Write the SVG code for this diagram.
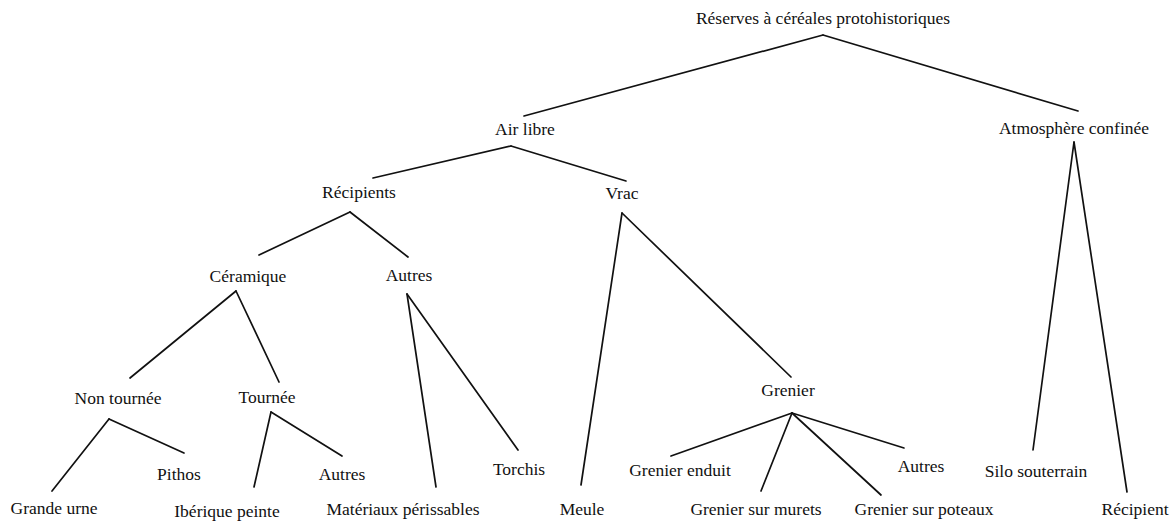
<svg xmlns="http://www.w3.org/2000/svg" width="1173" height="522" viewBox="0 0 1173 522">
<style>
text{font-family:"Liberation Serif","Times New Roman",serif;font-size:17.5px;fill:#111;text-anchor:middle}
.c line{stroke:#111;stroke-width:1.7;stroke-linecap:round}
</style>
<rect width="1173" height="522" fill="#fff"/>
<g class="c" id="connectors">
<line x1="823" y1="35" x2="524" y2="116"/>
<line x1="823" y1="35" x2="1078" y2="111"/>
<line x1="511" y1="146" x2="373" y2="178"/>
<line x1="511" y1="146" x2="626" y2="181"/>
<line x1="1074" y1="142" x2="1033" y2="450"/>
<line x1="1074" y1="142" x2="1127" y2="492"/>
<line x1="350" y1="212" x2="259" y2="255"/>
<line x1="350" y1="212" x2="408" y2="257"/>
<line x1="622" y1="213" x2="581" y2="485"/>
<line x1="622" y1="213" x2="791" y2="377"/>
<line x1="236" y1="291" x2="130" y2="378"/>
<line x1="236" y1="291" x2="279" y2="382"/>
<line x1="407" y1="294" x2="436" y2="487"/>
<line x1="407" y1="294" x2="518" y2="450"/>
<line x1="792" y1="413" x2="671" y2="456"/>
<line x1="792" y1="413" x2="761" y2="491"/>
<line x1="792" y1="413" x2="881" y2="495"/>
<line x1="792" y1="413" x2="904" y2="448"/>
<line x1="109" y1="419" x2="52" y2="491"/>
<line x1="109" y1="419" x2="184" y2="453"/>
<line x1="271" y1="412" x2="254" y2="487"/>
<line x1="271" y1="412" x2="342" y2="456"/>
</g>
<g id="n-root"><text x="823" y="24">Réserves à céréales protohistoriques</text></g>
<g id="n-airlibre"><text x="525" y="135">Air libre</text></g>
<g id="n-atmos"><text x="1074" y="134">Atmosphère confinée</text></g>
<g id="n-recipients"><text x="359" y="198">Récipients</text></g>
<g id="n-vrac"><text x="622" y="199">Vrac</text></g>
<g id="n-ceramique"><text x="248" y="282">Céramique</text></g>
<g id="n-autres1"><text x="409" y="281">Autres</text></g>
<g id="n-nontournee"><text x="118" y="404">Non tournée</text></g>
<g id="n-tournee"><text x="267" y="403">Tournée</text></g>
<g id="n-grenier"><text x="788" y="396">Grenier</text></g>
<g id="n-pithos"><text x="179" y="480">Pithos</text></g>
<g id="n-autres2"><text x="342" y="480">Autres</text></g>
<g id="n-torchis"><text x="519" y="475">Torchis</text></g>
<g id="n-grenierenduit"><text x="680" y="476">Grenier enduit</text></g>
<g id="n-autres3"><text x="921" y="472">Autres</text></g>
<g id="n-silo"><text x="1036" y="477">Silo souterrain</text></g>
<g id="n-grandeurne"><text x="54" y="514">Grande urne</text></g>
<g id="n-iberique"><text x="227" y="517">Ibérique peinte</text></g>
<g id="n-materiaux"><text x="403" y="515">Matériaux périssables</text></g>
<g id="n-meule"><text x="582" y="515">Meule</text></g>
<g id="n-murets"><text x="756" y="515">Grenier sur murets</text></g>
<g id="n-poteaux"><text x="924" y="515">Grenier sur poteaux</text></g>
<g id="n-recipient"><text x="1135" y="515">Récipient</text></g>
</svg>
